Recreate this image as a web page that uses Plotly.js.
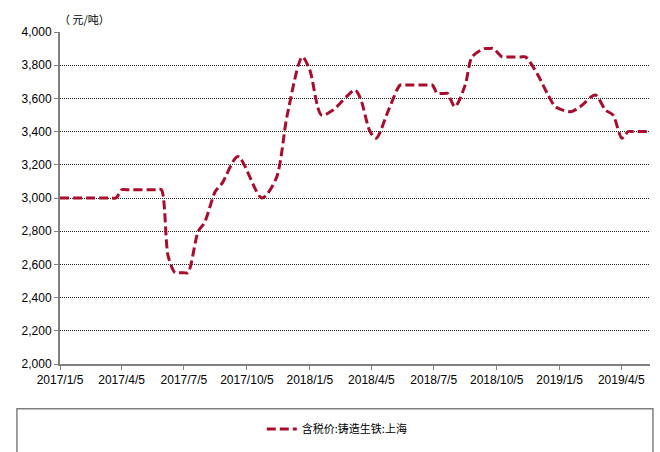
<!DOCTYPE html>
<html>
<head>
<meta charset="utf-8">
<script src="https://cdn.plot.ly/plotly-3.0.1.min.js"></script>
<style>html,body{margin:0;padding:0;background:#fff;}#chart{width:660px;height:452px;}</style>
</head>
<body>
<div id="chart"></div>
<script>
const dates = [
  "2017-01-05","2017-03-21","2017-03-28","2017-04-05","2017-04-12","2017-05-26","2017-06-02",
  "2017-06-12","2017-06-22","2017-06-28","2017-07-05","2017-07-11",
  "2017-07-26","2017-08-04","2017-08-20","2017-08-30","2017-09-22","2017-10-27","2017-11-17",
  "2017-12-03","2017-12-25","2018-01-05","2018-01-22","2018-02-08","2018-03-12","2018-03-20",
  "2018-04-03","2018-04-12","2018-04-30","2018-05-17","2018-05-24","2018-06-26","2018-07-03",
  "2018-07-10","2018-07-15","2018-07-21","2018-07-25",
  "2018-08-05","2018-08-20","2018-08-30","2018-09-17","2018-09-23","2018-09-30",
  "2018-10-13","2018-10-20","2018-11-09","2018-11-16",
  "2018-12-03","2018-12-18","2018-12-30","2019-01-21","2019-02-04","2019-02-26","2019-03-13",
  "2019-03-24","2019-04-06","2019-04-15","2019-04-22","2019-05-13"
];
const prices = [
  3000,3000,3000,3050,3050,3050,3050,
  2650,2550,2550,2550,2550,
  2800,2850,3040,3090,3250,3000,3120,
  3500,3850,3770,3500,3530,3650,3600,
  3400,3360,3530,3680,3680,3680,3680,
  3630,3630,3630,3630,
  3550,3680,3850,3900,3900,3900,
  3850,3850,3850,3850,
  3750,3630,3550,3520,3550,3620,3530,
  3500,3360,3400,3400,3400
];
const tickDates = ["2017-01-05","2017-04-05","2017-07-05","2017-10-05","2018-01-05","2018-04-05","2018-07-05","2018-10-05","2019-01-05","2019-04-05"];
const tickLabels = ["2017/1/5","2017/4/5","2017/7/5","2017/10/5","2018/1/5","2018/4/5","2018/7/5","2018/10/5","2019/1/5","2019/4/5"];
const seriesName = "含税价:铸造生铁:上海";
const unitLabel = "（ 元/吨）";

const trace = {
  x: dates, y: prices, type: "scatter", mode: "lines", name: seriesName,
  line: {color: "#A80D2E", width: 3, dash: "9px,4px", shape: "spline", smoothing: 0.8}
};

const tickFont = {family: "Liberation Sans, Arial, sans-serif", size: 12, color: "#000"};

const layout = {
  width: 660, height: 452,
  margin: {l: 60, r: 10, t: 32, b: 87},
  paper_bgcolor: "#fff", plot_bgcolor: "#fff",
  font: tickFont,
  showlegend: true,
  xaxis: {
    type: "date", range: ["2017-01-05", "2019-05-17"],
    tickvals: tickDates, ticktext: tickLabels,
    showgrid: false, zeroline: false,
    showline: true, linecolor: "#808080", linewidth: 2,
    ticks: "outside", ticklen: 4, tickcolor: "#808080", tickwidth: 1,
    tickfont: tickFont
  },
  yaxis: {
    range: [2000, 4000], dtick: 200, tick0: 2000, tickformat: ",",
    showgrid: true, gridcolor: "#222", griddash: "1px,1px", gridwidth: 1,
    zeroline: false,
    showline: true, linecolor: "#808080", linewidth: 2,
    ticks: "outside", ticklen: 4, tickcolor: "#808080", tickwidth: 1,
    tickfont: tickFont
  },
  legend: {
    orientation: "h", x: 0.47, xanchor: "center", y: -0.192, yanchor: "middle",
    font: {family: "Noto Sans CJK SC, sans-serif", size: 11, color: "#000"},
    bgcolor: "rgba(0,0,0,0)"
  },
  shapes: [{
    type: "rect", xref: "paper", yref: "paper",
    x0: -0.073, x1: 1.005, y0: -0.135, y1: -0.30,
    line: {color: "#808080", width: 1.5}, fillcolor: "rgba(0,0,0,0)"
  }],
  annotations: [{
    text: unitLabel, xref: "paper", yref: "paper", x: -0.005, y: 1.01,
    xanchor: "left", yanchor: "bottom", showarrow: false,
    font: {family: "Noto Sans CJK SC, sans-serif", size: 11, color: "#000"}
  }]
};

Plotly.newPlot("chart", [trace], layout, {displayModeBar: false, staticPlot: true});
</script>
</body>
</html>
